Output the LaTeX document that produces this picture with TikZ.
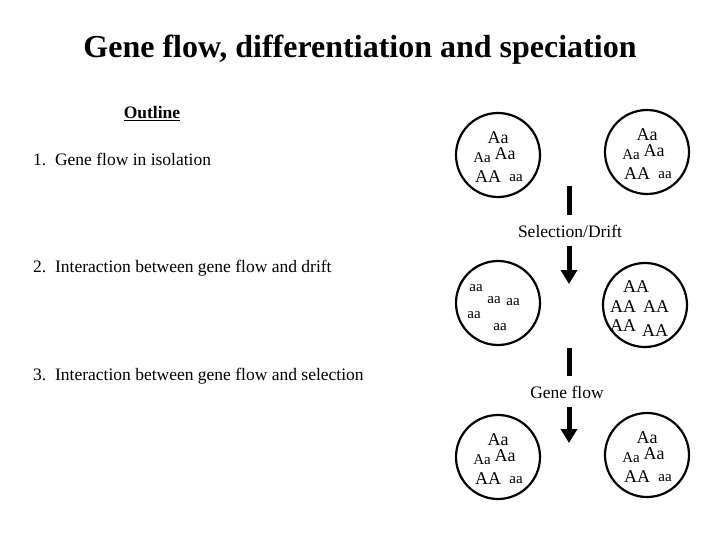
\documentclass[tikz,border=0pt]{standalone}
\usepackage{fontspec}
\setmainfont{Liberation Serif}
\usetikzlibrary{arrows.meta}
\begin{document}
\begin{tikzpicture}[x=1pt,y=-1pt,
  pop/.style={circle,draw,line width=2.2pt,minimum size=84pt,inner sep=0pt},
  g/.style={font=\fontsize{18}{18}\selectfont,inner sep=0pt},
  gs/.style={font=\fontsize{15}{15}\selectfont,inner sep=0pt},
  t/.style={font=\fontsize{17.5}{20}\selectfont,anchor=west,inner sep=0pt},
  bar/.style={line width=5pt},
  arr/.style={line width=5pt,-{Triangle[width=16pt,length=14pt]}}]
\useasboundingbox (0,0) rectangle (720,540);
\node[font=\bfseries\fontsize{32}{36}\selectfont] (title) at (360,50) {Gene flow, differentiation and speciation};
\node[font=\bfseries\fontsize{17.5}{20}\selectfont] (outline) at (152,114) {\underline{Outline}};
\node[t] (i1) at (33,159) {1.\enspace Gene flow in isolation};
\node[t] (i2) at (33,268) {2.\enspace Interaction between gene flow and drift};
\node[t] (i3) at (33,376) {3.\enspace Interaction between gene flow and selection};
% populations
\foreach \n/\x/\y in {a/498/155,b/647/152,e/498/457,f/647/455}{
  \node[pop] (\n) at (\x,\y) {};
  \node[g] (\n1) at (\x+0,\y-17) {Aa};
  \node[gs] (\n2) at (\x-16,\y+3) {Aa};
  \node[g] (\n3) at (\x+7,\y-1) {Aa};
  \node[g] (\n4) at (\x-10,\y+22) {AA};
  \node[gs] (\n5) at (\x+18,\y+23) {aa};
}
\node[pop] (c) at (498,303) {};
\node[gs] (c1) at (476,288) {aa};
\node[gs] (c2) at (494,300) {aa};
\node[gs] (c3) at (513,302) {aa};
\node[gs] (c4) at (474,315) {aa};
\node[gs] (c5) at (500,327) {aa};
\node[pop] (d) at (645,305) {};
\node[g] (d1) at (636,287) {AA};
\node[g] (d2) at (623,307) {AA};
\node[g] (d3) at (656,307) {AA};
\node[g] (d4) at (623,326) {AA};
\node[g] (d5) at (655,331) {AA};
% arrows
\coordinate (b1s) at (569,186); \coordinate (b1e) at (569,215);
\draw[bar] (b1s) -- (b1e);
\node[font=\fontsize{17.5}{20}\selectfont] (sd) at (570,231) {Selection/Drift};
\coordinate (a1s) at (569,246); \coordinate (a1e) at (569,284);
\draw[arr] (a1s) -- (a1e);
\coordinate (b2s) at (569,348); \coordinate (b2e) at (569,376);
\draw[bar] (b2s) -- (b2e);
\node[font=\fontsize{17.5}{20}\selectfont] (gf) at (567,392) {Gene flow};
\coordinate (a2s) at (569,407); \coordinate (a2e) at (569,443);
\draw[arr] (a2s) -- (a2e);
\end{tikzpicture}
\end{document}
